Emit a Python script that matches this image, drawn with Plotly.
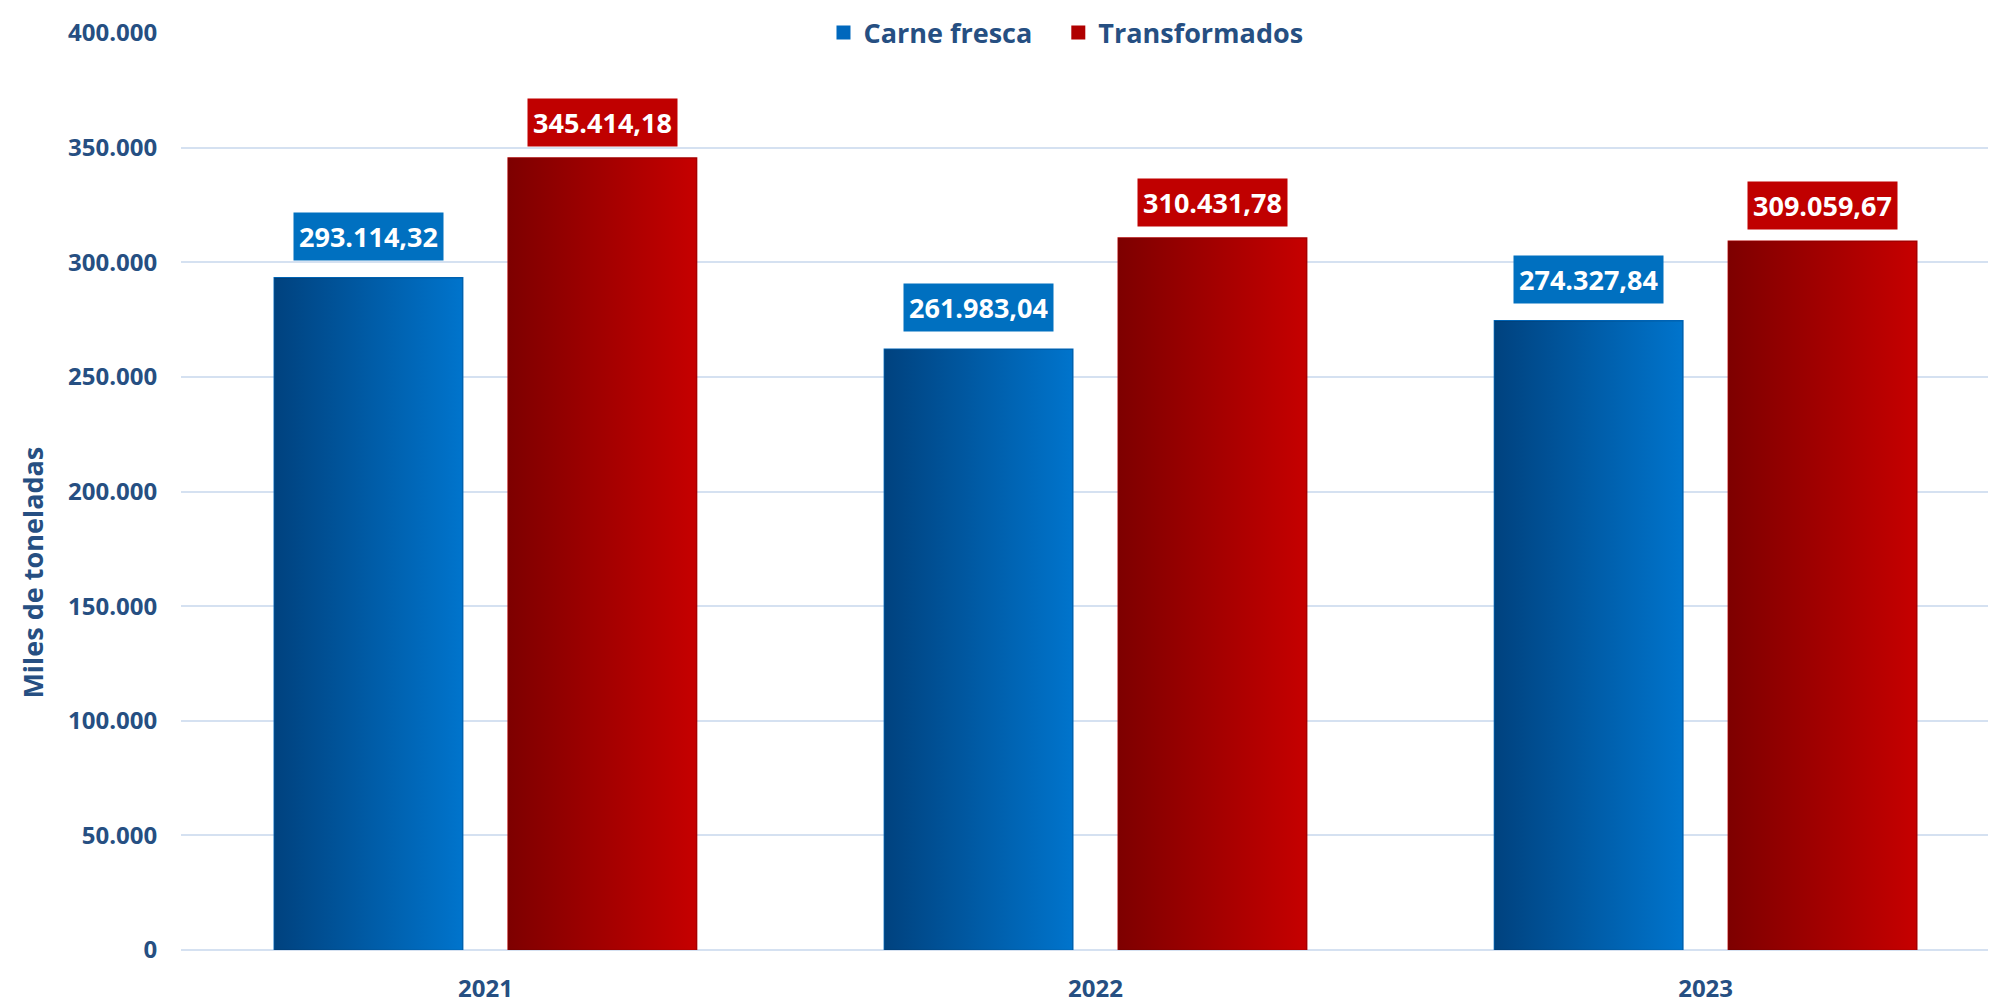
import plotly.graph_objects as go

years = ["2021", "2022", "2023"]
carne_fresca = [293114.32, 261983.04, 274327.84]
transformados = [345414.18, 310431.78, 309059.67]
y_ticks = [0, 50000, 100000, 150000, 200000, 250000, 300000, 350000, 400000]

TEXT = "#264f82"
GRID = "#d5e1f1"
FONT = "Open Sans"

# name, values, solid colour, gradient, label box colour, side, label lift
series = [
    ("Carne fresca", carne_fresca, "#0068bd", ["#00427f", "#0074cc"], "#0070c0", -1, 17),
    ("Transformados", transformados, "#b00000", ["#7e0000", "#c60000"], "#c00000", 1, 11),
]

bar_w = 0.308
gap = 0.0377


def es_num(v):
    s = f"{v:,.2f}"
    return s.replace(",", "X").replace(".", ",").replace("X", ".")


fig = go.Figure()
xs = list(range(len(years)))

for k, (name, vals, solid, grad, box, side, lift) in enumerate(series):
    off = gap if side > 0 else -gap - bar_w
    # a little extra room after the first legend entry
    label = name + "\u00a0\u00a0\u00a0" if k == 0 else name
    fig.add_trace(go.Bar(
        x=xs, y=vals, name=label, width=bar_w, offset=off,
        marker=dict(color=solid, line=dict(color=solid, width=2)),
        hovertemplate="%{y:,.2f}<extra>" + name + "</extra>",
    ))

for name, vals, solid, grad, box, side, lift in series:
    off = gap if side > 0 else -gap - bar_w
    for i, v in enumerate(vals):
        x0 = i + off
        x1 = x0 + bar_w
        fig.add_trace(go.Scatter(
            x=[x0, x1, x1, x0, x0], y=[0, 0, v, v, 0],
            mode="lines", fill="toself",
            line=dict(width=1, color="rgba(0,0,0,0.12)"),
            fillgradient=dict(type="horizontal", colorscale=[[0, grad[0]], [1, grad[1]]]),
            showlegend=False, hoverinfo="skip",
        ))
        fig.add_annotation(
            x=i + off + bar_w / 2, y=v, text=es_num(v),
            showarrow=False, yanchor="bottom", yshift=lift,
            bgcolor=box, borderpad=5,
            font=dict(family=FONT, size=27, color="white", weight="bold"),
        )

fig.add_annotation(
    xref="paper", yref="paper", x=0, xshift=-169, y=0.411,
    text="Miles de toneladas", textangle=-90, showarrow=False,
    font=dict(family=FONT, size=27, color=TEXT, weight="bold"),
)

# the page body keeps an 8px margin, so the figure is shifted by that amount
fig.update_layout(
    width=1988, height=995,
    margin=dict(l=173, r=0, t=16, b=53),
    plot_bgcolor="white", paper_bgcolor="white",
    separators=",.",
    showlegend=True,
    legend=dict(
        orientation="h", x=0.4876, xanchor="center", y=1, yanchor="middle",
        bgcolor="rgba(0,0,0,0)",
        font=dict(family=FONT, size=27, color=TEXT, weight="bold"),
        itemwidth=30,
    ),
    xaxis=dict(
        range=[-0.499, 2.476], tickvals=xs, ticktext=years,
        showgrid=False, zeroline=False,
        ticks="outside", ticklen=17, tickcolor="rgba(0,0,0,0)",
        tickfont=dict(family=FONT, size=24, color=TEXT, weight="bold"),
    ),
    yaxis=dict(
        range=[0, 400000], tickvals=y_ticks, tickformat=",d",
        gridcolor=GRID, gridwidth=2, zeroline=True, zerolinecolor=GRID, zerolinewidth=2,
        ticks="outside", ticklen=18, tickcolor="rgba(0,0,0,0)",
        tickfont=dict(family=FONT, size=24, color=TEXT, weight="bold"),
    ),
)

fig.write_html("out.html")
